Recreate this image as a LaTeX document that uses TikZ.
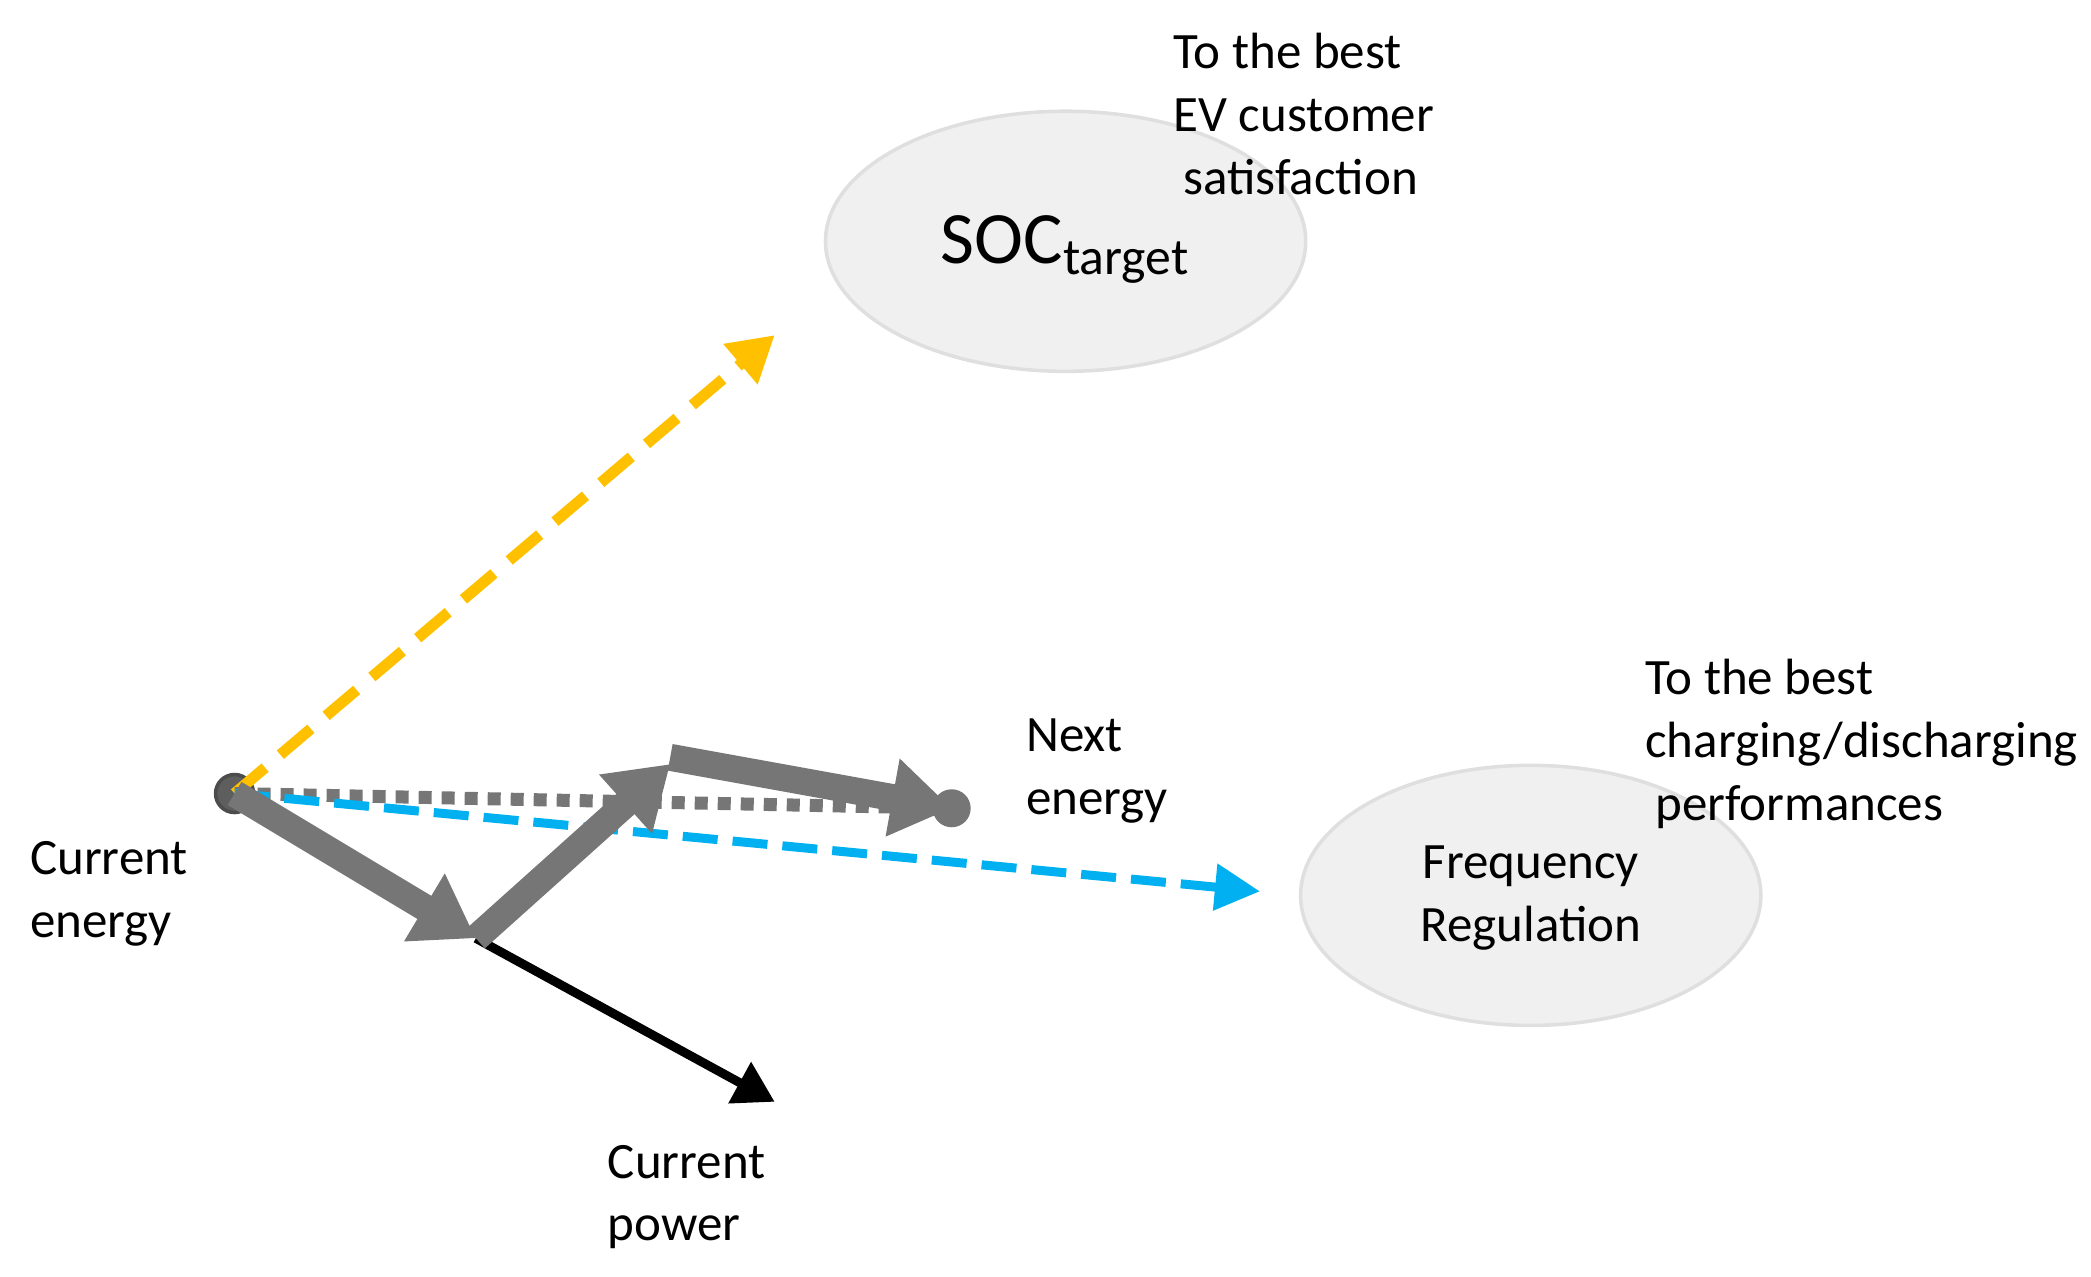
\documentclass[tikz,border=0pt]{standalone}
\usepackage{fontspec}
\setmainfont{Carlito}
\usetikzlibrary{arrows.meta,shapes.geometric}
\definecolor{ygold}{RGB}{255,192,0}
\definecolor{cblue}{RGB}{0,176,240}
\definecolor{agray}{RGB}{118,118,118}
\tikzset{
  goal/.style={ellipse,draw=gray!25,line width=1pt,fill=gray!12,minimum width=4.8cm,minimum height=2.6cm},
  lbl/.style={align=left,font=\fontsize{14.5}{17.8}\selectfont,inner sep=0pt},
  dot/.style={circle,fill=agray,inner sep=0pt,minimum size=0.38cm},
  move/.style={draw=agray,line width=0.27cm,-{Triangle[length=0.6cm,width=0.75cm]}},
}
\begin{document}
\begin{tikzpicture}[x=0.013404cm,y=-0.013404cm]
\useasboundingbox (0,0) rectangle (1560,952);
% targets
\node (soc) [goal,minimum width=4.8cm,minimum height=2.6cm] at (795,180) {};
\node (socl) at (795,186) {\fontsize{21}{24}\selectfont SOC\textsubscript{target}};
\node (freq) [goal,minimum width=4.6cm,minimum height=2.6cm] at (1142,668) {};
\node (freql) [lbl,align=center] at (1142,670) {Frequency\\Regulation};
% energy points
\node (cur) [dot,fill=agray!80!black,draw=black!70,line width=1pt] at (175,592) {};
\node (next) [dot] at (710,603) {};
\coordinate (p1) at (355,700);
\coordinate (p2) at (500,570);
\coordinate (yend) at (578,250);
\coordinate (bend) at (940,665);
\coordinate (pend) at (578,822);
% connectors
\draw[ygold,line width=0.11cm,dash pattern=on 0.4cm off 0.2cm,-{Triangle[length=0.45cm,width=0.5cm]}] (cur.center) -- (yend);
\draw[agray,line width=0.13cm,dash pattern=on 0.13cm off 0.1cm] (cur.center) -- (next.center);
\draw[cblue,line width=0.09cm,dash pattern=on 0.35cm off 0.15cm,-{Triangle[length=0.45cm,width=0.45cm]}] (cur.center) -- (bend);
\draw[black,line width=0.09cm,-{Triangle[length=0.4cm,width=0.45cm]}] (p1) -- (pend);
\draw[move] (cur.center) -- (p1);
\draw[move] (p1) -- (p2);
\draw[move] (500,565) -- (next.center);
% labels
\node (curl) [lbl,anchor=west] at (22,667) {Current\\energy};
\node (powl) [lbl,anchor=west] at (453,893) {Current\\power};
\node (nextl) [lbl,anchor=west] at (765,575) {Next\\energy};
\node (evl) [lbl,anchor=west] at (875,85) {To the best\\EV customer\\\hspace*{0.1cm}satisfaction};
\node (chl) [lbl,anchor=west] at (1227,555) {To the best\\charging/discharging\\\hspace*{0.1cm}performances};
\end{tikzpicture}
\end{document}
